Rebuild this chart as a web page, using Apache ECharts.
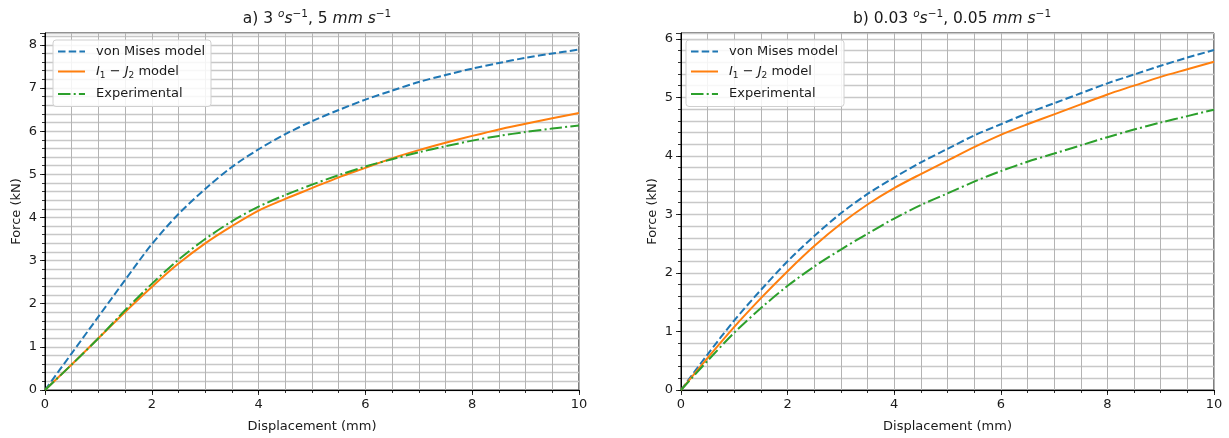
<!DOCTYPE html>
<html>
<head>
<meta charset="utf-8">
<script src="https://cdn.jsdelivr.net/npm/echarts@6/dist/echarts.min.js"></script>
<style>
html,body{margin:0;padding:0;background:#fff;}
#chart{width:1229px;height:438px;}
</style>
</head>
<body>
<div id="chart"></div>
<script>
// ---- data ----
const displacement = [0, 0.5, 1, 1.5, 2, 2.5, 3, 3.5, 4, 4.5, 5, 5.5, 6, 6.5, 7, 7.5, 8, 8.5, 9, 9.5, 10];
// panel a) 3 deg/s, 5 mm/s
const vonMisesA     = [0, 0.85, 1.70, 2.55, 3.38, 4.08, 4.66, 5.17, 5.58, 5.93, 6.23, 6.49, 6.73, 6.94, 7.14, 7.30, 7.45, 7.58, 7.70, 7.80, 7.89];
const i1j2A         = [0, 0.59, 1.20, 1.81, 2.39, 2.93, 3.40, 3.80, 4.16, 4.43, 4.68, 4.93, 5.15, 5.37, 5.56, 5.73, 5.89, 6.04, 6.17, 6.30, 6.42];
const experimentalA = [0, 0.59, 1.20, 1.85, 2.46, 3.02, 3.50, 3.91, 4.25, 4.52, 4.76, 4.98, 5.18, 5.35, 5.51, 5.65, 5.78, 5.89, 5.98, 6.06, 6.13];
// panel b) 0.03 deg/s, 0.05 mm/s
const vonMisesB     = [0, 0.61, 1.19, 1.71, 2.20, 2.63, 3.02, 3.35, 3.63, 3.89, 4.12, 4.35, 4.54, 4.73, 4.90, 5.07, 5.24, 5.39, 5.54, 5.68, 5.81];
const i1j2B         = [0, 0.55, 1.08, 1.57, 2.03, 2.46, 2.84, 3.17, 3.45, 3.69, 3.92, 4.15, 4.36, 4.54, 4.71, 4.88, 5.05, 5.20, 5.35, 5.48, 5.61];
const experimentalB = [0, 0.50, 0.98, 1.40, 1.78, 2.11, 2.40, 2.67, 2.93, 3.16, 3.36, 3.56, 3.74, 3.90, 4.04, 4.18, 4.32, 4.45, 4.57, 4.68, 4.79];

const seriesNames = ['von Mises model', 'I1-J2 model', 'Experimental'];
const xTickLabels = [0, 2, 4, 6, 8, 10];
const yMaxA = 8.275, yMaxB = 6.1;

// ---- chart ----
const FONT = 'DejaVu Sans';
const TXT = '#1a1a1a';
const colors = ['#1f77b4', '#ff7f0e', '#2ca02c'];
const lineTypes = [[7.5, 3.2], 'solid', [12.5, 3.2, 2, 3.2]];

function pairs(ys) { return displacement.map((x, i) => [x, ys[i]]); }

const grids = [
  {left: 45, top: 33, width: 534, height: 361},
  {left: 681, top: 33, width: 533, height: 361}
];

function isMult(v, m) { return Math.abs(v / m - Math.round(v / m)) < 1e-6; }

const xAxes = [], yAxes = [];
[0, 1].forEach(g => {
  xAxes.push({
    type: 'value', gridIndex: g, min: 0, max: 10, interval: 0.5, position: 'bottom',
    name: 'Displacement (mm)', nameLocation: 'middle', nameGap: 30,
    nameTextStyle: {fontFamily: FONT, fontSize: 13, color: TXT},
    axisLine: {show: true, lineStyle: {color: '#000', width: 1}},
    axisTick: {show: true, length: 3, lineStyle: {color: '#000', width: 0.8}},
    axisLabel: {show: true, margin: 8, fontFamily: FONT, fontSize: 13, color: TXT,
      formatter: v => (xTickLabels.some(t => Math.abs(t - v) < 1e-6) ? String(Math.round(v)) : '')},
    splitLine: {show: true, lineStyle: {color: '#b4b4b4', width: 1}}
  });
});
[0, 1].forEach(g => {
  xAxes.push({
    type: 'value', gridIndex: g, min: 0, max: 10, interval: 2, position: 'bottom',
    axisLine: {show: false}, axisTick: {show: true, length: 5, lineStyle: {color: '#000', width: 0.8}},
    axisLabel: {show: false}, splitLine: {show: false}
  });
});
[0, 1].forEach(g => {
  yAxes.push({
    type: 'value', gridIndex: g, min: 0, max: g === 0 ? yMaxA : yMaxB, interval: 0.2, position: 'left',
    name: 'Force (kN)', nameLocation: 'middle', nameGap: 22, nameRotate: 90,
    nameTextStyle: {fontFamily: FONT, fontSize: 13, color: TXT},
    axisLine: {show: true, lineStyle: {color: '#000', width: 1}},
    axisTick: {show: true, length: 3, lineStyle: {color: '#000', width: 0.8}},
    axisLabel: {show: true, margin: 8, fontFamily: FONT, fontSize: 13, color: TXT, showMaxLabel: false,
      formatter: v => (isMult(v, 1) ? String(Math.round(v)) : '')},
    splitLine: {show: true, lineStyle: {color: '#c8c8c8', width: 1.3}}
  });
});
[0, 1].forEach(g => {
  yAxes.push({
    type: 'value', gridIndex: g, min: 0, max: g === 0 ? yMaxA : yMaxB, interval: 1, position: 'left',
    axisLine: {show: false}, axisTick: {show: true, length: 5, lineStyle: {color: '#000', width: 0.8}},
    axisLabel: {show: false}, splitLine: {show: false}
  });
});

const dataSets = [[vonMisesA, i1j2A, experimentalA], [vonMisesB, i1j2B, experimentalB]];
const series = [];
[0, 1].forEach(g => {
  dataSets[g].forEach((ys, k) => {
    series.push({
      type: 'line', name: seriesNames[k], xAxisIndex: g, yAxisIndex: g,
      data: pairs(ys), symbol: 'none', smooth: 0.3,
      lineStyle: {color: colors[k], width: 2, type: lineTypes[k]},
      itemStyle: {color: colors[k]}, z: 3, animation: false
    });
  });
});

const legendRich = {
  n: {fontFamily: FONT, fontSize: 13, color: TXT},
  it: {fontFamily: FONT, fontSize: 13, fontStyle: 'italic', color: TXT},
  sub: {fontFamily: FONT, fontSize: 9, color: TXT, verticalAlign: 'bottom', lineHeight: 18},
  sp: {width: 6}
};
function legendFmt(name) {
  if (name === 'I1-J2 model') return '{sp|}{it|I}{sub|1}{n| − }{it|J}{sub|2}{n| model}';
  return '{sp|}{n|' + name + '}';
}
function makeLegend(left) {
  return {
    data: seriesNames, orient: 'vertical', left: left, top: 40,
    itemWidth: 27, itemHeight: 14, itemGap: 7,
    padding: [5, 6, 6, 4],
    backgroundColor: 'rgba(255,255,255,0.85)', borderColor: '#d0d0d0', borderWidth: 1, borderRadius: 3,
    itemStyle: {color: 'rgba(0,0,0,0)', borderWidth: 0, opacity: 0},
    formatter: legendFmt,
    textStyle: {fontFamily: FONT, fontSize: 13, color: TXT, rich: legendRich}
  };
}

const titleRich = {
  n: {fontFamily: FONT, fontSize: 15.5, fontWeight: 'normal', color: TXT, lineHeight: 20},
  it: {fontFamily: FONT, fontSize: 15.5, fontWeight: 'normal', fontStyle: 'italic', color: TXT, lineHeight: 20},
  sup: {fontFamily: FONT, fontSize: 10.5, fontWeight: 'normal', color: TXT, verticalAlign: 'top', lineHeight: 20},
  supi: {fontFamily: FONT, fontSize: 10.5, fontWeight: 'normal', fontStyle: 'italic', color: TXT, verticalAlign: 'top', lineHeight: 20}
};
const titles = [
  {text: '{n|a) 3 }{supi|o}{it|s}{sup|−1}{n|, 5 }{it|mm s}{sup|−1}', left: 312, top: 4, textAlign: 'center',
   textStyle: {fontWeight: 'normal', rich: titleRich}},
  {text: '{n|b) 0.03 }{supi|o}{it|s}{sup|−1}{n|, 0.05 }{it|mm s}{sup|−1}', left: 947, top: 4, textAlign: 'center',
   textStyle: {fontWeight: 'normal', rich: titleRich}}
];

const chart = echarts.init(document.getElementById('chart'), null, {renderer: 'canvas'});
chart.setOption({
  backgroundColor: '#fff',
  animation: false,
  title: titles,
  legend: [makeLegend(53), makeLegend(686)],
  grid: grids.map(g => Object.assign({show: true, borderColor: '#000', borderWidth: 1, backgroundColor: 'transparent', containLabel: false}, g)),
  xAxis: xAxes,
  yAxis: yAxes,
  series: series
});
</script>
</body>
</html>
